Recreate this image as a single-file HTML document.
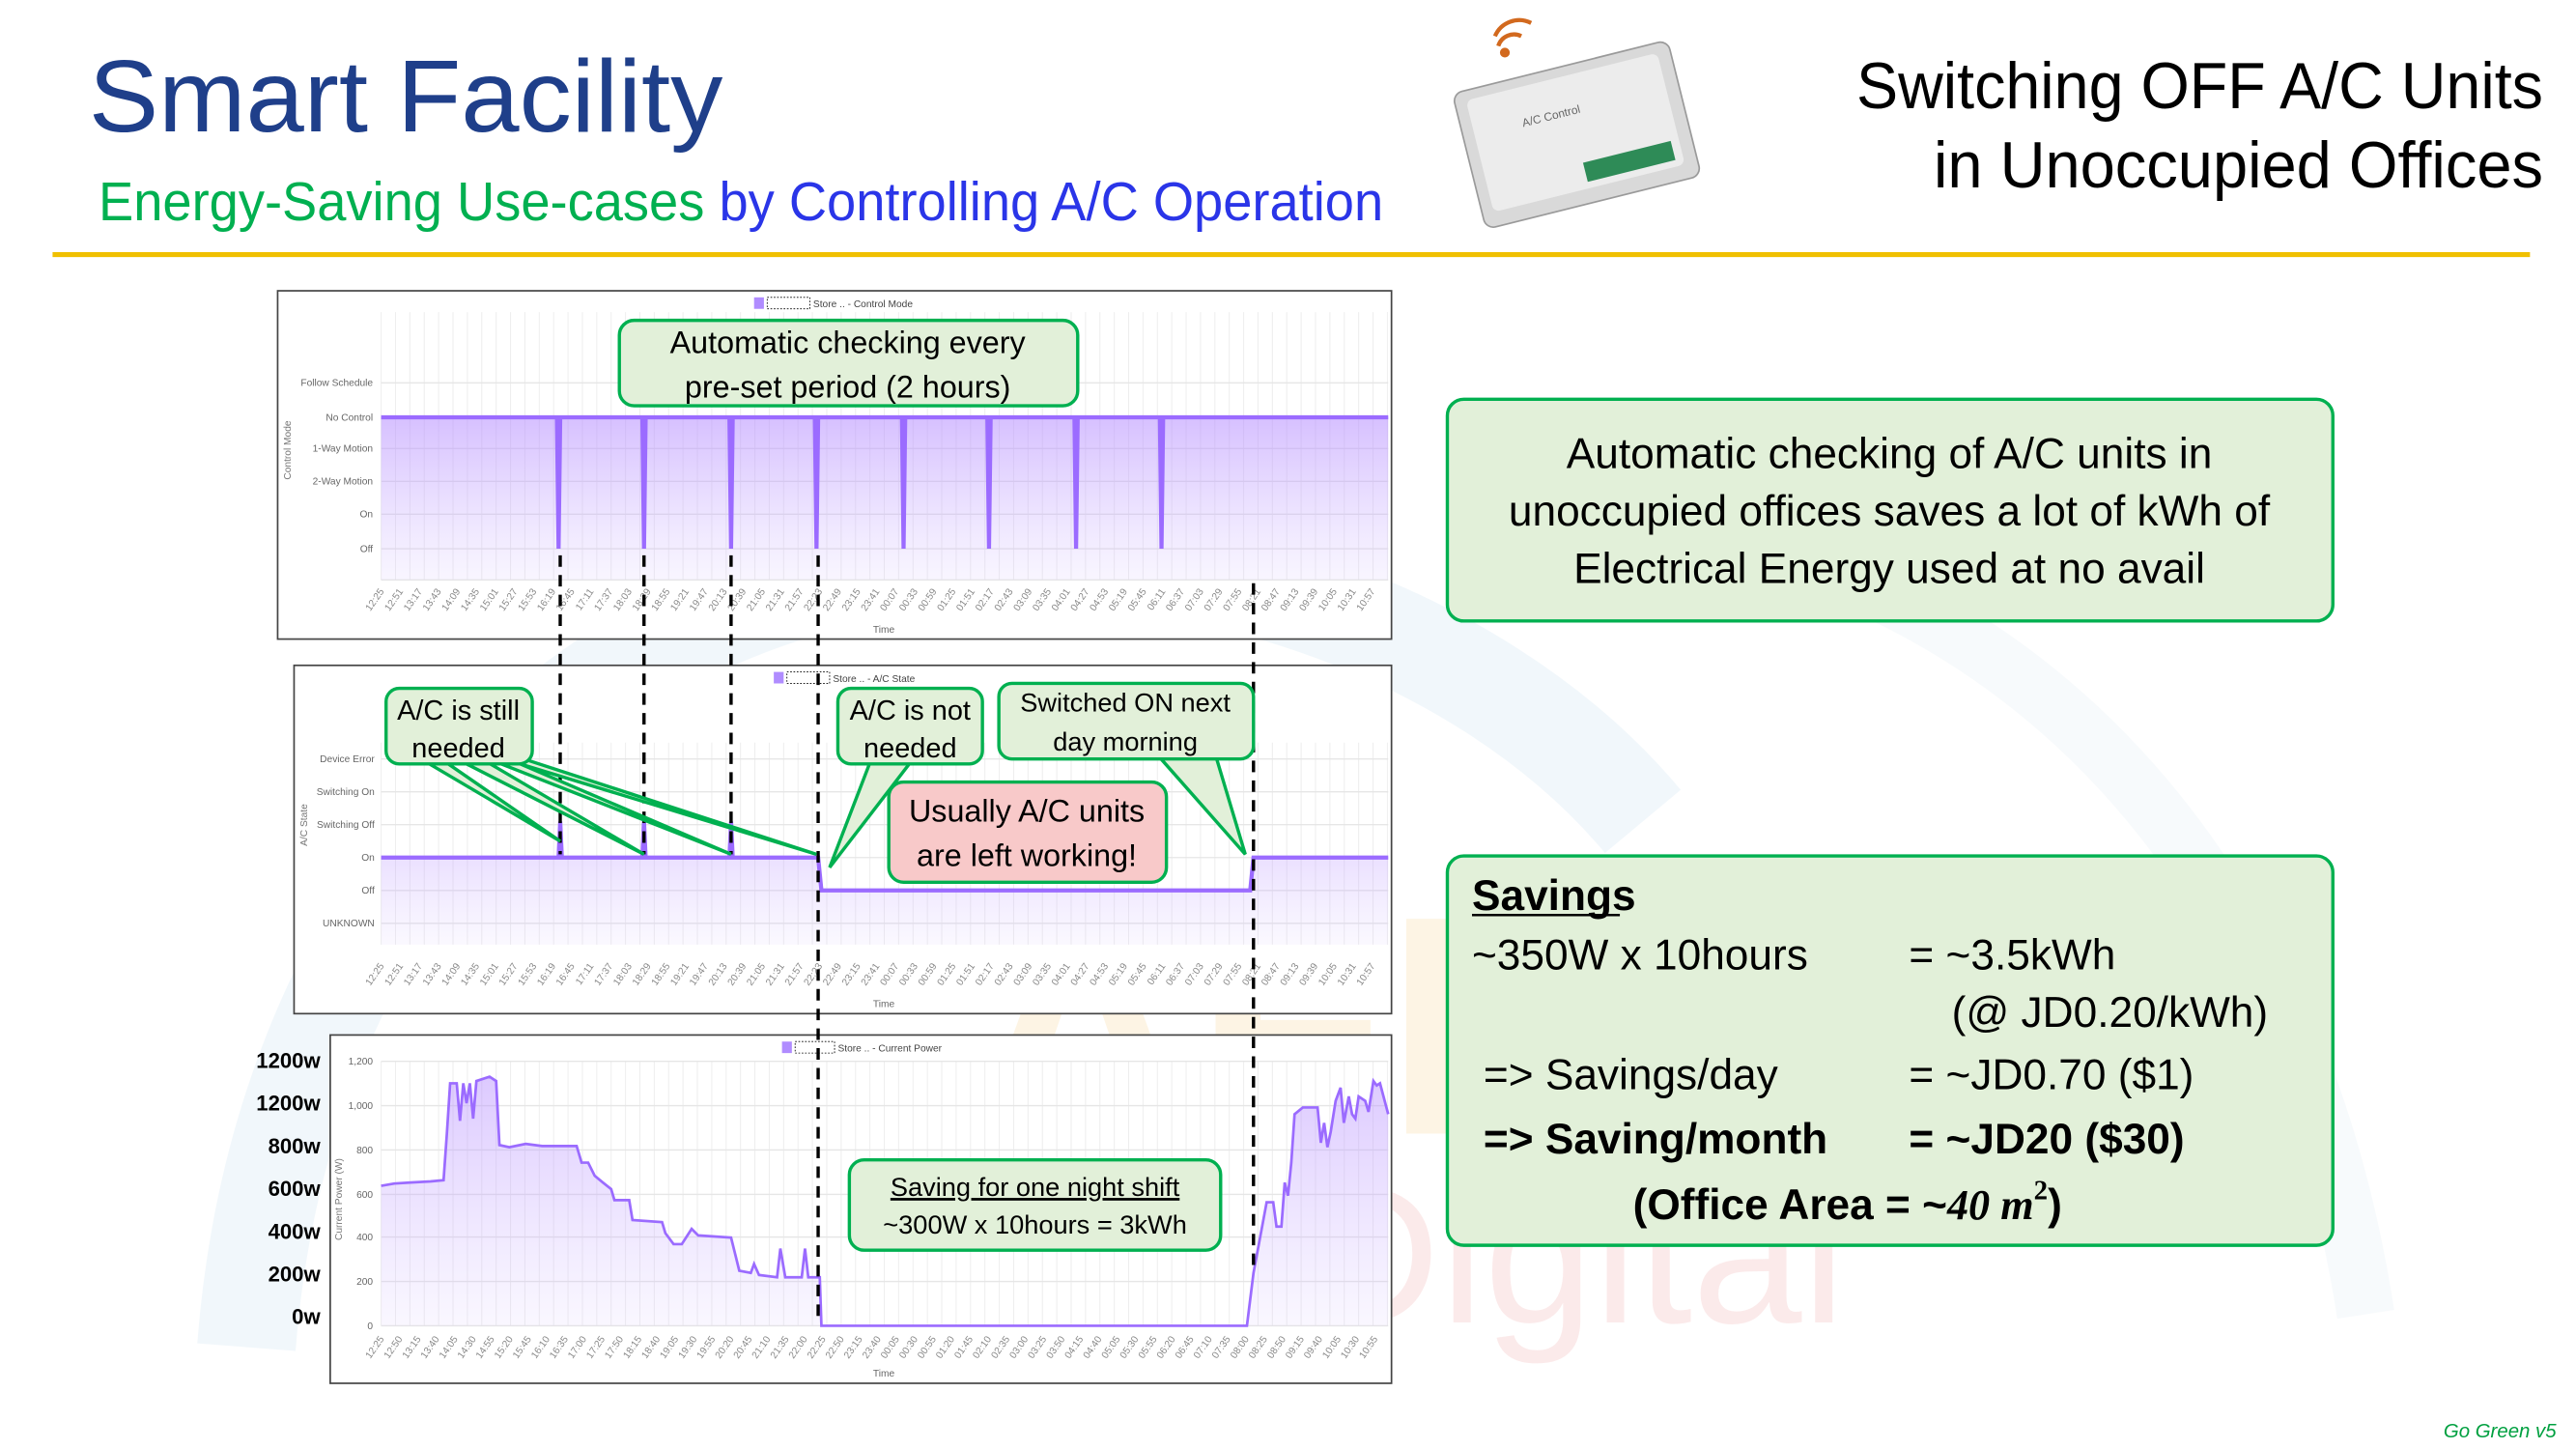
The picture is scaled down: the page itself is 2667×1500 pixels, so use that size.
<!DOCTYPE html>
<html><head><meta charset="utf-8"><style>
html,body{margin:0;padding:0;background:#fff;}
svg{display:block;}
text{font-family:"Liberation Sans",sans-serif;}
</style></head><body>
<svg id="s" width="2667" height="1500" viewBox="0 0 1568 882" preserveAspectRatio="none" xmlns="http://www.w3.org/2000/svg">
<defs>
<linearGradient id="pg" x1="0" y1="0" x2="0" y2="1"><stop offset="0" stop-color="#b58cff" stop-opacity="0.55"/><stop offset="1" stop-color="#c9b0ff" stop-opacity="0.12"/></linearGradient>
</defs>
<rect width="1568" height="882" fill="#fff"/>
<!-- watermark -->
<path d="M150,820 C170,560 330,390 520,350 C700,310 900,380 1000,500" fill="none" stroke="#e4eff8" stroke-width="60" opacity="0.5"/>
<path d="M1060,330 C1250,380 1400,540 1440,800" fill="none" stroke="#f0f5f9" stroke-width="35" opacity="0.5"/>
<text x="590" y="690" font-size="190" font-weight="bold" fill="#fdf2de" opacity="0.8">AFKAR</text>
<text x="790" y="805" font-size="120" fill="#fbe6e6" opacity="0.8">Digital</text>

<!-- titles -->
<text x="54" y="80" font-size="62" fill="#1f3f8a" textLength="386" lengthAdjust="spacingAndGlyphs">Smart Facility</text>
<text x="60" y="134" font-size="33" textLength="782" lengthAdjust="spacingAndGlyphs"><tspan fill="#00b050">Energy-Saving Use-cases </tspan><tspan fill="#2a35e8">by Controlling A/C Operation</tspan></text>
<text x="1130" y="66" font-size="40" fill="#000" textLength="418" lengthAdjust="spacingAndGlyphs">Switching OFF A/C Units</text>
<text x="1177" y="114" font-size="40" fill="#000" textLength="371" lengthAdjust="spacingAndGlyphs">in Unoccupied Offices</text>
<line x1="32" y1="155" x2="1540" y2="155" stroke="#f0c000" stroke-width="3"/>

<!-- device -->
<g transform="rotate(-14 958 85)">
<rect x="893" y="40" width="135" height="85" rx="6" fill="#d9d9d9" stroke="#9a9a9a"/>
<rect x="900" y="46" width="120" height="70" rx="4" fill="#ececec"/>
<rect x="960" y="100" width="55" height="12" fill="#2e8b57"/>
<text x="930" y="70" font-size="7" fill="#666">A/C Control</text>
</g>
<path d="M912,28 a10,10 0 0 1 14,-6 M910,22 a16,16 0 0 1 22,-8" fill="none" stroke="#d2691e" stroke-width="2.5"/>
<circle cx="916" cy="32" r="3" fill="#d2691e"/>

<!-- chart frames -->
<rect x="169" y="177" width="678" height="212" fill="#fff" stroke="#444" stroke-width="1"/>
<rect x="179" y="405" width="668" height="212" fill="#fff" stroke="#444" stroke-width="1"/>
<rect x="201" y="630" width="646" height="212" fill="#fff" stroke="#444" stroke-width="1"/>
<g id="grids"></g>

<!-- chart1 -->
<g font-size="6" fill="#666" text-anchor="end">
<text x="227" y="235">Follow Schedule</text><text x="227" y="256">No Control</text><text x="227" y="275">1-Way Motion</text><text x="227" y="295">2-Way Motion</text><text x="227" y="315">On</text><text x="227" y="336">Off</text>
</g>
<text x="177" y="292" font-size="6" fill="#777" transform="rotate(-90 177 292)">Control Mode</text>
<rect x="232" y="254" width="613" height="99" fill="url(#pg)"/>
<polyline id="c1" fill="none" stroke="#9b6bff" stroke-width="2.5"/>
<rect x="459" y="181" width="6" height="7" fill="#b08cff"/>
<rect x="467" y="181" width="26" height="7" fill="#fff" stroke="#000" stroke-width="0.5" stroke-dasharray="1 1"/>
<text x="495" y="187" font-size="6" fill="#444">Store .. - Control Mode</text>
<text x="538" y="385" font-size="6" fill="#666" text-anchor="middle">Time</text>

<!-- chart2 -->
<g font-size="6" fill="#666" text-anchor="end">
<text x="228" y="464">Device Error</text><text x="228" y="484">Switching On</text><text x="228" y="504">Switching Off</text><text x="228" y="524">On</text><text x="228" y="544">Off</text><text x="228" y="564">UNKNOWN</text>
</g>
<text x="187" y="515" font-size="6" fill="#777" transform="rotate(-90 187 515)">A/C State</text>
<path d="M232,522 L340,522 L341,500 L342,522 L391,522 L392,500 L393,522 L444,522 L445,500 L446,522 L498,522 L500,542 L761,542 L763,522 L845,522 L845,575 L232,575Z" fill="url(#pg)" opacity="0.7"/>
<polyline points="232,522 340,522 341,500 342,522 391,522 392,500 393,522 444,522 445,500 446,522 498,522 500,542 761,542 763,522 845,522" fill="none" stroke="#9b6bff" stroke-width="2.5"/>
<rect x="471" y="409" width="6" height="7" fill="#b08cff"/>
<rect x="479" y="409" width="26" height="7" fill="#fff" stroke="#000" stroke-width="0.5" stroke-dasharray="1 1"/>
<text x="507" y="415" font-size="6" fill="#444">Store .. - A/C State</text>
<text x="538" y="613" font-size="6" fill="#666" text-anchor="middle">Time</text>

<!-- chart3 -->
<g font-size="13" font-weight="bold" fill="#000" text-anchor="end">
<text x="195" y="650">1200w</text><text x="195" y="676">1200w</text><text x="195" y="702">800w</text><text x="195" y="728">600w</text><text x="195" y="754">400w</text><text x="195" y="780">200w</text><text x="195" y="806">0w</text>
</g>
<g font-size="6" fill="#666" text-anchor="end">
<text x="227" y="648">1,200</text><text x="227" y="675">1,000</text><text x="227" y="702">800</text><text x="227" y="729">600</text><text x="227" y="755">400</text><text x="227" y="782">200</text><text x="227" y="809">0</text>
</g>
<text x="208" y="755" font-size="6" fill="#777" transform="rotate(-90 208 755)">Current Power (W)</text>
<path id="c3f" fill="url(#pg)" opacity="0.85"/>
<polyline id="c3" fill="none" stroke="#9b6bff" stroke-width="1.6"/>
<rect x="476" y="634" width="6" height="7" fill="#b08cff"/>
<rect x="484" y="634" width="24" height="7" fill="#fff" stroke="#000" stroke-width="0.5" stroke-dasharray="1 1"/>
<text x="510" y="640" font-size="6" fill="#444">Store .. - Current Power</text>
<text x="538" y="838" font-size="6" fill="#666" text-anchor="middle">Time</text>
<g id="xl" font-size="6" fill="#888"></g>

<!-- dashed lines -->
<g stroke="#000" stroke-width="2" stroke-dasharray="7 5" fill="none">
<line x1="341" y1="338" x2="341" y2="520"/>
<line x1="392" y1="338" x2="392" y2="520"/>
<line x1="445" y1="338" x2="445" y2="520"/>
<line x1="498" y1="338" x2="498" y2="805"/>
<line x1="763" y1="355" x2="763" y2="770"/>
</g>

<!-- callouts -->
<g stroke="#00b050" stroke-width="2" fill="#e2f0d9">
<rect x="377" y="195" width="279" height="52" rx="9"/>
<path d="M258,463 L341,512 L270,463Z M280,463 L392,520 L295,463Z M300,463 L445,520 L312,463Z M310,463 L497,520 L322,463Z"/>
<rect x="235" y="419" width="89" height="46" rx="8"/>
<path d="M530,463 L505,528 L555,463Z"/>
<rect x="510" y="419" width="88" height="46" rx="8"/>
<path d="M705,460 L758,520 L740,460Z"/>
<rect x="608" y="416" width="155" height="46" rx="8"/>
<rect x="541" y="476" width="169" height="61" rx="9" fill="#f8c9c9"/>
<rect x="517" y="706" width="226" height="55" rx="9"/>
<rect x="881" y="243" width="539" height="135" rx="10"/>
<rect x="881" y="521" width="539" height="237" rx="10"/>
</g>
<g font-size="19" fill="#000" text-anchor="middle">
<text x="516" y="215">Automatic checking every</text>
<text x="516" y="242">pre-set period (2 hours)</text>
<text x="279" y="438" font-size="17">A/C is still</text>
<text x="279" y="461" font-size="17">needed</text>
<text x="554" y="438" font-size="17">A/C is not</text>
<text x="554" y="461" font-size="17">needed</text>
<text x="685" y="433" font-size="16">Switched ON next</text>
<text x="685" y="457" font-size="16">day morning</text>
<text x="625" y="500">Usually A/C units</text>
<text x="625" y="527">are left working!</text>
<text x="630" y="728" font-size="16" text-decoration="underline">Saving for one night shift</text>
<text x="630" y="751" font-size="16">~300W x 10hours = 3kWh</text>
<text x="1150" y="285" font-size="26">Automatic checking of A/C units in</text>
<text x="1150" y="320" font-size="26">unoccupied offices saves a lot of kWh of</text>
<text x="1150" y="355" font-size="26">Electrical Energy used at no avail</text>
</g>
<line x1="896" y1="557" x2="986" y2="557" stroke="#000" stroke-width="1.5"/>
<g font-size="26" fill="#000">
<text x="896" y="554" font-weight="bold">Savings</text>
<text x="896" y="590">~350W x 10hours</text><text x="1162" y="590">= ~3.5kWh</text>
<text x="1188" y="625">(@ JD0.20/kWh)</text>
<text x="903" y="663">=&gt; Savings/day</text><text x="1162" y="663">= ~JD0.70 ($1)</text>
<text x="903" y="702" font-weight="bold">=&gt; Saving/month</text><text x="1162" y="702" font-weight="bold">= ~JD20 ($30)</text>
<text x="994" y="742" font-weight="bold">(Office Area = ~<tspan font-family="Liberation Serif" font-style="italic">40 m</tspan><tspan font-family="Liberation Serif" font-size="17" dy="-12">2</tspan><tspan dy="12">)</tspan></text>
</g>
<text x="1556" y="875" font-size="12" font-style="italic" fill="#00a040" text-anchor="end">Go Green v5</text>
</svg>
<script>
var NS="http://www.w3.org/2000/svg";
function el(t,a,p){var e=document.createElementNS(NS,t);for(var k in a)e.setAttribute(k,a[k]);(p||document.getElementById('s')).appendChild(e);return e;}
var g=document.getElementById('grids');
[[232,845,190,353],[232,845,452,575],[232,845,646,807]].forEach(function(c,i){
 for(var x=c[0];x<=c[1];x+=8.75)el('line',{x1:x,x2:x,y1:c[2],y2:c[3],stroke:'#eee','stroke-width':0.6},g);
});
[233,254,273,293,313,334,353].forEach(function(y){el('line',{x1:232,x2:845,y1:y,y2:y,stroke:'#e6e6e6','stroke-width':0.8},g);});
[462,482,502,522,542,562].forEach(function(y){el('line',{x1:232,x2:845,y1:y,y2:y,stroke:'#e6e6e6','stroke-width':0.8},g);});
[646,673,700,727,753,780,807].forEach(function(y){el('line',{x1:232,x2:845,y1:y,y2:y,stroke:'#e6e6e6','stroke-width':0.8},g);});
var p=[[232,254]];[340,392,445,497,550,602,655,707].forEach(function(x){p.push([x-1,254],[x,334],[x+1,254]);});p.push([845,254]);
document.getElementById('c1').setAttribute('points',p.map(function(a){return a.join(',')}).join(' '));
var d=[[232,635],[240,645],[250,650],[262,655],[270,660],[272,870],[274,1100],[278,1100],[280,930],[282,1100],[284,1010],[286,1100],[288,940],[290,1110],[298,1130],[302,1110],[304,820],[310,810],[320,825],[330,815],[351,815],[354,740],[358,740],[362,680],[367,650],[372,620],[374,570],[383,570],[385,480],[403,470],[405,420],[410,370],[415,370],[421,440],[425,410],[445,400],[448,310],[450,250],[457,240],[459,280],[462,230],[473,220],[475,350],[478,220],[488,220],[490,350],[492,220],[499,220],[500,0],[759,0],[763,240],[771,560],[775,560],[777,450],[780,450],[782,650],[784,590],[786,740],[788,960],[793,990],[802,990],[804,830],[806,920],[808,810],[810,880],[813,1020],[816,1080],[818,920],[821,1040],[823,960],[825,940],[827,1040],[831,1020],[833,970],[836,1110],[838,1090],[840,1100],[845,960]];
var pts=d.map(function(a){return a[0]+','+(807-a[1]*0.1342).toFixed(1)});
document.getElementById('c3').setAttribute('points',pts.join(' '));
document.getElementById('c3f').setAttribute('d','M'+pts.join(' L')+' L845,807 L232,807Z');
var xl=document.getElementById('xl');
function labs(y,start,step,sp){var t=start;for(var x=234;x<=845;x+=sp){var h=Math.floor(t/60)%24,m=t%60;var s=(h<10?'0':'')+h+':'+(m<10?'0':'')+m;var e=el('text',{x:x,y:y,'text-anchor':'end',transform:'rotate(-55 '+x+' '+y+')'},xl);e.textContent=s;t+=step;}}
labs(360,745,26,11.6);labs(588,745,26,11.6);labs(815,745,25,11.2);
</script>
</body></html>
